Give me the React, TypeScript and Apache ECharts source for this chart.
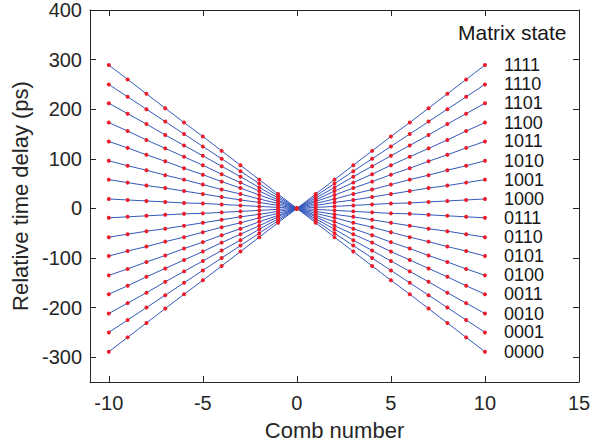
import React, { useEffect, useRef } from "react";
import * as echarts from "echarts";

const combNumbers = [-10, -9, -8, -7, -6, -5, -4, -3, -2, -1, 0, 1, 2, 3, 4, 5, 6, 7, 8, 9, 10];

const matrixStates = [
  "1111", "1110", "1101", "1100", "1011", "1010", "1001", "1000",
  "0111", "0110", "0101", "0100", "0011", "0010", "0001", "0000",
];

// relative time delay (ps) for each matrix state, at each comb number
const delay1111 = [-289, -260, -231, -202, -173, -145, -116, -87, -58, -29, 0, 29, 58, 87, 116, 145, 173, 202, 231, 260, 289];
const delay1110 = [-250, -225, -200, -175, -150, -125, -100, -75, -50, -25, 0, 25, 50, 75, 100, 125, 150, 175, 200, 225, 250];
const delay1101 = [-212, -191, -170, -148, -127, -106, -85, -64, -42, -21, 0, 21, 42, 64, 85, 106, 127, 148, 170, 191, 212];
const delay1100 = [-173, -156, -138, -121, -104, -87, -69, -52, -35, -17, 0, 17, 35, 52, 69, 87, 104, 121, 138, 156, 173];
const delay1011 = [-135, -122, -108, -95, -81, -68, -54, -41, -27, -14, 0, 14, 27, 41, 54, 68, 81, 95, 108, 122, 135];
const delay1010 = [-96, -86, -77, -67, -58, -48, -38, -29, -19, -10, 0, 10, 19, 29, 38, 48, 58, 67, 77, 86, 96];
const delay1001 = [-58, -52, -46, -41, -35, -29, -23, -17, -12, -6, 0, 6, 12, 17, 23, 29, 35, 41, 46, 52, 58];
const delay1000 = [-19, -17, -15, -13, -11, -10, -8, -6, -4, -2, 0, 2, 4, 6, 8, 10, 11, 13, 15, 17, 19];
const delay0111 = [19, 17, 15, 13, 11, 10, 8, 6, 4, 2, 0, -2, -4, -6, -8, -10, -11, -13, -15, -17, -19];
const delay0110 = [58, 52, 46, 41, 35, 29, 23, 17, 12, 6, 0, -6, -12, -17, -23, -29, -35, -41, -46, -52, -58];
const delay0101 = [96, 86, 77, 67, 58, 48, 38, 29, 19, 10, 0, -10, -19, -29, -38, -48, -58, -67, -77, -86, -96];
const delay0100 = [135, 122, 108, 95, 81, 68, 54, 41, 27, 14, 0, -14, -27, -41, -54, -68, -81, -95, -108, -122, -135];
const delay0011 = [173, 156, 138, 121, 104, 87, 69, 52, 35, 17, 0, -17, -35, -52, -69, -87, -104, -121, -138, -156, -173];
const delay0010 = [212, 191, 170, 148, 127, 106, 85, 64, 42, 21, 0, -21, -42, -64, -85, -106, -127, -148, -170, -191, -212];
const delay0001 = [250, 225, 200, 175, 150, 125, 100, 75, 50, 25, 0, -25, -50, -75, -100, -125, -150, -175, -200, -225, -250];
const delay0000 = [289, 260, 231, 202, 173, 145, 116, 87, 58, 29, 0, -29, -58, -87, -116, -145, -173, -202, -231, -260, -289];

const delays = [
  delay1111, delay1110, delay1101, delay1100, delay1011, delay1010, delay1001, delay1000,
  delay0111, delay0110, delay0101, delay0100, delay0011, delay0010, delay0001, delay0000,
];

const xTickValues = [-10, -5, 0, 5, 10, 15];
const yTickValues = [-300, -200, -100, 0, 100, 200, 300, 400];

const FONT = "'Liberation Sans', Arial, Helvetica, sans-serif";
const AXIS_COLOR = "#262626";
const LINE_COLOR = "#3558bc";
const DOT_COLOR = "#ec1c2a";

export default function App() {
  const ref = useRef<HTMLDivElement>(null);

  useEffect(() => {
    if (!ref.current) return;
    const chart = echarts.init(ref.current, null, { renderer: "svg" });

    const series = matrixStates.map((state, i) => {
      const vals = delays[i];
      const data = combNumbers.map((n, j) => {
        if (j === combNumbers.length - 1) {
          return {
            value: [n, vals[j]],
            label: {
              show: true,
              position: "right",
              distance: 17,
              formatter: state,
              fontSize: 18,
              lineHeight: 18,
              fontFamily: FONT,
              color: "#161616",
            },
          };
        }
        return [n, vals[j]];
      });
      return {
        name: state,
        type: "line",
        data,
        symbol: "circle",
        symbolSize: 4,
        showAllSymbol: true,
        itemStyle: { color: DOT_COLOR },
        lineStyle: { color: LINE_COLOR, width: 1 },
        labelLayout: { hideOverlap: false },
        emphasis: { disabled: true },
        z: 2,
      };
    });

    const axisLine = { show: true, onZero: false, lineStyle: { color: AXIS_COLOR, width: 1 } };

    chart.setOption({
      animation: false,
      backgroundColor: "#ffffff",
      textStyle: { fontFamily: FONT },
      grid: { left: 90, right: 32, top: 8, bottom: 66, containLabel: false },
      xAxis: [
        {
          type: "value",
          min: -11,
          max: 15,
          axisLine,
          splitLine: { show: false },
          axisTick: { show: true, inside: true, length: 6, customValues: xTickValues, lineStyle: { color: AXIS_COLOR } },
          axisLabel: {
            show: true,
            customValues: xTickValues,
            margin: 11,
            fontSize: 20,
            color: AXIS_COLOR,
            fontFamily: FONT,
          },
          name: "Comb number",
          nameLocation: "middle",
          nameGap: 37,
          nameTextStyle: { fontSize: 22, color: AXIS_COLOR, fontFamily: FONT },
        },
        {
          type: "value",
          position: "top",
          min: -11,
          max: 15,
          axisLine,
          splitLine: { show: false },
          axisTick: { show: true, inside: true, length: 6, customValues: xTickValues, lineStyle: { color: AXIS_COLOR } },
          axisLabel: { show: false },
        },
      ],
      yAxis: [
        {
          type: "value",
          min: -350,
          max: 400,
          axisLine,
          splitLine: { show: false },
          axisTick: { show: true, inside: true, length: 6, customValues: yTickValues, lineStyle: { color: AXIS_COLOR } },
          axisLabel: {
            show: true,
            customValues: yTickValues,
            margin: 8,
            fontSize: 20,
            color: AXIS_COLOR,
            fontFamily: FONT,
          },
          name: "Relative time delay (ps)",
          nameLocation: "middle",
          nameGap: 54,
          nameTextStyle: { fontSize: 22, color: AXIS_COLOR, fontFamily: FONT },
        },
        {
          type: "value",
          position: "right",
          min: -350,
          max: 400,
          axisLine,
          splitLine: { show: false },
          axisTick: { show: true, inside: true, length: 6, customValues: yTickValues, lineStyle: { color: AXIS_COLOR } },
          axisLabel: { show: false },
        },
      ],
      graphic: [
        {
          type: "text",
          left: 458,
          top: 22,
          style: {
            text: "Matrix state",
            fontSize: 21,
            fontFamily: FONT,
            fill: "#161616",
          },
          z: 10,
        },
      ],
      series,
    });

    return () => chart.dispose();
  }, []);

  return (
    <div
      ref={ref}
      style={{ position: "fixed", left: 0, top: 0, width: 611, height: 448, background: "#fff" }}
    />
  );
}
